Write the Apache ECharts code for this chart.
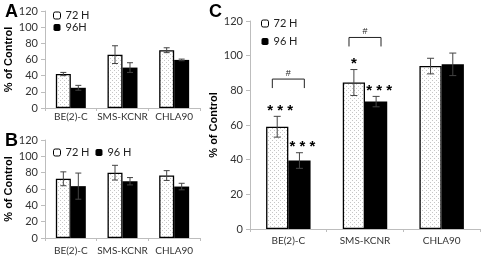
<!DOCTYPE html>
<html>
<head>
<meta charset="utf-8">
<script src="https://cdn.jsdelivr.net/npm/echarts@6/dist/echarts.min.js"></script>
<style>
  html, body { margin: 0; padding: 0; background: #fff; }
  #chart { width: 500px; height: 257px; }
</style>
</head>
<body>
<div id="chart"></div>
<script>
const categories = ['BE(2)-C', 'SMS-KCNR', 'CHLA90'];
const yTicks = [0, 20, 40, 60, 80, 100, 120];

// panel A
const a72 = [42, 66, 71.5];
const a72Err = [2, 11, 3];
const a96 = [25, 50, 59.5];
const a96Err = [3, 6, 1];

// panel B
const b72 = [72.5, 80, 76.5];
const b72Err = [8.5, 9, 6];
const b96 = [63.5, 69.5, 63];
const b96Err = [16, 4.5, 4];

// panel C
const c72 = [59, 84.5, 94];
const c72Err = [6, 7.5, 4.5];
const c96 = [39.5, 73.5, 95];
const c96Err = [4.5, 3, 6.5];
const c72Sig = ['* * *', '*', ''];
const c96Sig = ['* * *', '* * *', ''];
// [category, bracket top value]
const cBrackets = [[0, 86.5], [1, 110.5]];

const FONT = 'Lato, "Open Sans", sans-serif';
const CAT_GAP = 0.42;

// dotted fill for the 72 H bars
function dotPattern() {
    const c = document.createElement('canvas');
    c.width = 4; c.height = 4;
    const g = c.getContext('2d');
    g.fillStyle = '#fff';
    g.fillRect(0, 0, 4, 4);
    g.fillStyle = '#c6c6c6';
    g.fillRect(0, 0, 1, 1);
    g.fillRect(2, 2, 1, 1);
    return { image: c, repeat: 'repeat' };
}
const dots = dotPattern();

const barWidthOf = (api) => api.size([1, 0])[0] * (1 - CAT_GAP) / 2;

function errSeries(vals, errs, slot, idx, cap) {
    return {
        type: 'custom',
        name: 'err',
        xAxisIndex: idx, yAxisIndex: idx,
        z: 5,
        data: vals.map((v, i) => [i, v, errs[i]]),
        renderItem(params, api) {
            const cat = api.value(0), v = api.value(1), e = api.value(2);
            const off = (slot - 0.5) * barWidthOf(api);
            const hi = api.coord([cat, v + e]);
            const lo = api.coord([cat, v - e]);
            const x = hi[0] + off;
            const st = { stroke: '#444', lineWidth: 1 };
            return {
                type: 'group',
                children: [
                    { type: 'line', shape: { x1: x, y1: hi[1], x2: x, y2: lo[1] }, style: st },
                    { type: 'line', shape: { x1: x - cap, y1: hi[1], x2: x + cap, y2: hi[1] }, style: st },
                    { type: 'line', shape: { x1: x - cap, y1: lo[1], x2: x + cap, y2: lo[1] }, style: st }
                ]
            };
        }
    };
}

function sigSeries(vals, errs, marks, slot, idx) {
    return {
        type: 'custom',
        name: 'sig',
        xAxisIndex: idx, yAxisIndex: idx,
        z: 6,
        data: vals.map((v, i) => [i, v + errs[i], i]),
        renderItem(params, api) {
            const mark = marks[api.value(2)];
            if (!mark) return null;
            const off = (slot - 0.5) * barWidthOf(api);
            const p = api.coord([api.value(0), api.value(1)]);
            return {
                type: 'text',
                style: {
                    text: mark, x: p[0] + off + (mark.length > 1 ? 3 : 0), y: p[1] + 2,
                    font: 'bold 15px Arial, sans-serif', fill: '#000',
                    textAlign: 'center', textVerticalAlign: 'bottom'
                }
            };
        }
    };
}

function bracketSeries(idx) {
    return {
        type: 'custom',
        name: 'bracket',
        xAxisIndex: idx, yAxisIndex: idx,
        z: 6,
        data: cBrackets,
        renderItem(params, api) {
            const p = api.coord([api.value(0), api.value(1)]);
            const half = barWidthOf(api) * 0.72;
            const st = { stroke: '#222', lineWidth: 1 };
            return {
                type: 'group',
                children: [
                    { type: 'polyline', shape: { points: [[p[0] - half, p[1] + 9], [p[0] - half, p[1]], [p[0] + half, p[1]], [p[0] + half, p[1] + 9]] }, style: { ...st, fill: null } },
                    { type: 'text', style: { text: '#', x: p[0], y: p[1] - 1, font: '9px Arial, sans-serif', fill: '#222', textAlign: 'center', textVerticalAlign: 'bottom' } }
                ]
            };
        }
    };
}

function xAxisOf(idx, margin, size) {
    return {
        type: 'category', gridIndex: idx, data: categories,
        axisLine: { lineStyle: { color: '#bdbdbd' } },
        axisTick: { show: true, length: 3, lineStyle: { color: '#bdbdbd' } },
        axisLabel: { color: '#333', fontFamily: FONT, fontSize: size, margin: margin, interval: 0 }
    };
}

function yAxisOf(idx, size) {
    return {
        type: 'value', gridIndex: idx, min: 0, max: 120, interval: 20,
        name: '% of Control', nameLocation: 'middle', nameGap: 31,
        nameTextStyle: { fontFamily: 'Arial, sans-serif', fontWeight: 'bold', fontSize: 11, color: '#000' },
        axisLine: { show: true, lineStyle: { color: '#bdbdbd' } },
        axisTick: { show: true, length: 4, lineStyle: { color: '#bdbdbd' } },
        axisLabel: { color: '#333', fontFamily: FONT, fontSize: size, margin: 7,
            formatter: (v) => (yTicks.includes(v) ? String(v) : '') },
        splitLine: { show: false }
    };
}

function barPair(v72, v96, idx, name96) {
    return [
        {
            type: 'bar', name: '72 H', xAxisIndex: idx, yAxisIndex: idx, data: v72,
            barGap: '0%', barCategoryGap: (CAT_GAP * 100) + '%',
            itemStyle: { color: dots, borderColor: '#000', borderWidth: 1.3 },
            emphasis: { disabled: true }
        },
        {
            type: 'bar', name: name96, xAxisIndex: idx, yAxisIndex: idx, data: v96,
            barGap: '0%', barCategoryGap: (CAT_GAP * 100) + '%',
            itemStyle: { color: '#000' },
            emphasis: { disabled: true }
        }
    ];
}

const legendText = { fontFamily: FONT, fontSize: 11, color: '#222' };
const whiteIcon = { color: '#fff', borderColor: '#000', borderWidth: 1 };

const chart = echarts.init(document.getElementById('chart'), null, { renderer: 'canvas' });
chart.setOption({
    animation: false,
    backgroundColor: '#fff',
    title: [
        { text: 'A', left: 0, top: -2, textStyle: { fontFamily: 'Arial, sans-serif', fontSize: 18, fontWeight: 'bold', color: '#000' } },
        { text: 'B', left: 0, top: 127, textStyle: { fontFamily: 'Arial, sans-serif', fontSize: 18, fontWeight: 'bold', color: '#000' } },
        { text: 'C', left: 204, top: -2, textStyle: { fontFamily: 'Arial, sans-serif', fontSize: 18, fontWeight: 'bold', color: '#000' } }
    ],
    legend: [
        {
            left: 53, top: 10, orient: 'vertical', itemWidth: 7, itemHeight: 7, itemGap: 1, padding: 0,
            textStyle: legendText, selectedMode: false,
            data: [{ name: '72 H', itemStyle: whiteIcon }, { name: '96H' }]
        },
        {
            left: 53, top: 147, orient: 'horizontal', itemWidth: 7, itemHeight: 7, itemGap: 6, padding: 0,
            textStyle: legendText, selectedMode: false,
            data: [{ name: '72 H', itemStyle: whiteIcon }, { name: '96 H' }]
        },
        {
            left: 261, top: 18, orient: 'vertical', itemWidth: 7, itemHeight: 7, itemGap: 7, padding: 0,
            textStyle: legendText, selectedMode: false,
            data: [{ name: '72 H', itemStyle: whiteIcon }, { name: '96 H' }]
        }
    ],
    grid: [
        { left: 45, top: 11, width: 155, height: 97 },
        { left: 45, top: 140, width: 155, height: 98 },
        { left: 250, top: 21, width: 230, height: 208 }
    ],
    xAxis: [xAxisOf(0, 4, 10), xAxisOf(1, 8, 10), xAxisOf(2, 7, 10)],
    yAxis: [yAxisOf(0, 11), yAxisOf(1, 11), yAxisOf(2, 11)],
    series: [
        ...barPair(a72, a96, 0, '96H'),
        errSeries(a72, a72Err, 0, 0, 3),
        errSeries(a96, a96Err, 1, 0, 3),
        ...barPair(b72, b96, 1, '96 H'),
        errSeries(b72, b72Err, 0, 1, 3),
        errSeries(b96, b96Err, 1, 1, 3),
        ...barPair(c72, c96, 2, '96 H'),
        errSeries(c72, c72Err, 0, 2, 3.5),
        errSeries(c96, c96Err, 1, 2, 3.5),
        sigSeries(c72, c72Err, c72Sig, 0, 2),
        sigSeries(c96, c96Err, c96Sig, 1, 2),
        bracketSeries(2)
    ]
});
</script>
</body>
</html>
